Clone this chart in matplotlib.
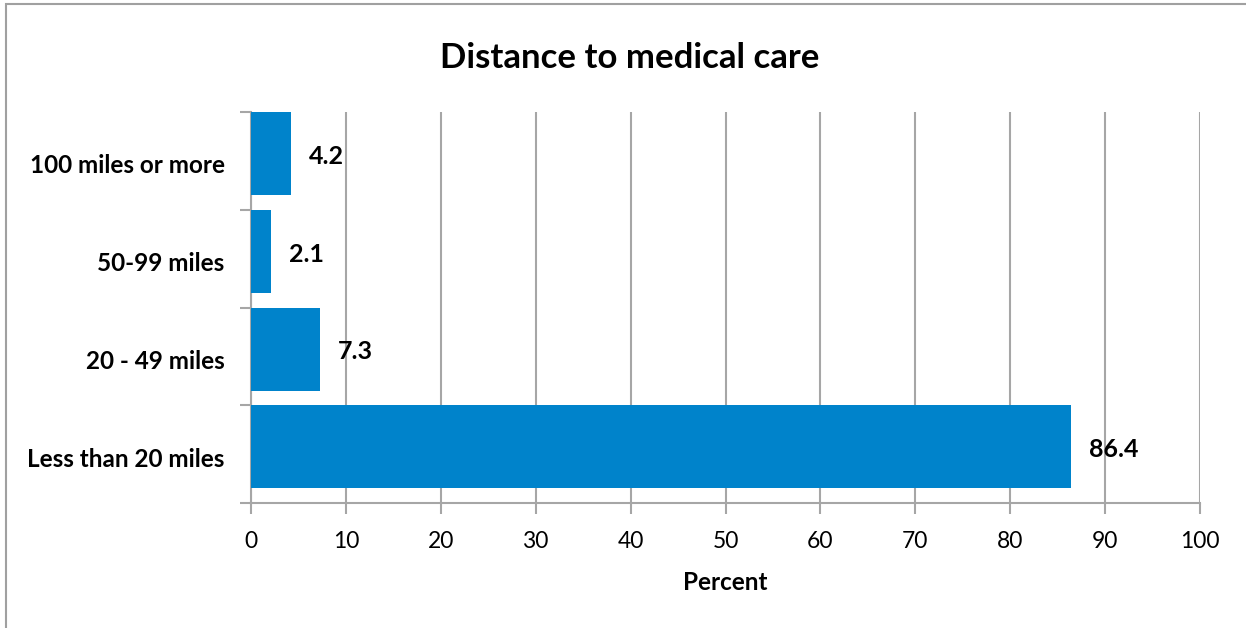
import matplotlib.pyplot as plt
from matplotlib.patches import Rectangle

categories = ['Less than 20 miles', '20 - 49 miles', '50-99 miles', '100 miles or more']
percent = [86.4, 7.3, 2.1, 4.2]
labels = ['86.4', '7.3', '2.1', '4.2']

BAR = '#0083CB'
GRID = '#A6A6A6'
plt.rcParams['font.family'] = ['Lato', 'DejaVu Sans']

fig = plt.figure(figsize=(12.46, 6.28), dpi=100)
ax = fig.add_axes([251 / 1246, 1 - 503 / 628, 949 / 1246, 391 / 628])

# outer chart frame (runs off right/bottom edge)
fig.patches.append(Rectangle((6 / 1246, -0.1), 1.2, 1 - 4 / 628 + 0.1,
                             transform=fig.transFigure, fill=False,
                             edgecolor='#A0A0A0', lw=1.5))

y = list(range(len(categories)))
# bars sit in the upper part of each category band
yb = [v + 0.075 for v in y]
ax.barh(yb, percent, height=0.85, color=BAR, zorder=3)
for yi, v, t in zip(yb, percent, labels):
    ax.text(v + 1.9, yi - 0.03, t, va='center', ha='left',
            fontsize=18, fontweight='bold')

ax.set_xlim(0, 100)
ax.set_ylim(-0.5, 3.5)
ax.set_xticks(range(0, 101, 10))
ax.tick_params(axis='x', labelsize=16.5, length=8, width=1.5, color=GRID, pad=12)
ax.set_yticks([-0.5, 0.5, 1.5, 2.5, 3.5])
ax.set_yticklabels([])
ax.set_yticks([v - 0.03 for v in y], minor=True)
ax.set_yticklabels(categories, minor=True, fontsize=17.5, fontweight='bold')
ax.tick_params(axis='y', which='major', length=8, width=1.5, color=GRID)
ax.tick_params(axis='y', which='minor', length=0, pad=19)

ax.grid(axis='x', color=GRID, lw=1.5, zorder=0)
for s in ['top', 'right']:
    ax.spines[s].set_visible(False)
for s in ['left', 'bottom']:
    ax.spines[s].set_color(GRID)
    ax.spines[s].set_linewidth(1.5)

ax.set_xlabel('Percent', fontsize=17.5, fontweight='bold', labelpad=14)
fig.text(630 / 1246, 1 - 58 / 628, 'Distance to medical care', ha='center',
         va='center', fontsize=25, fontweight='bold')

fig.savefig('out.png', dpi=100)
